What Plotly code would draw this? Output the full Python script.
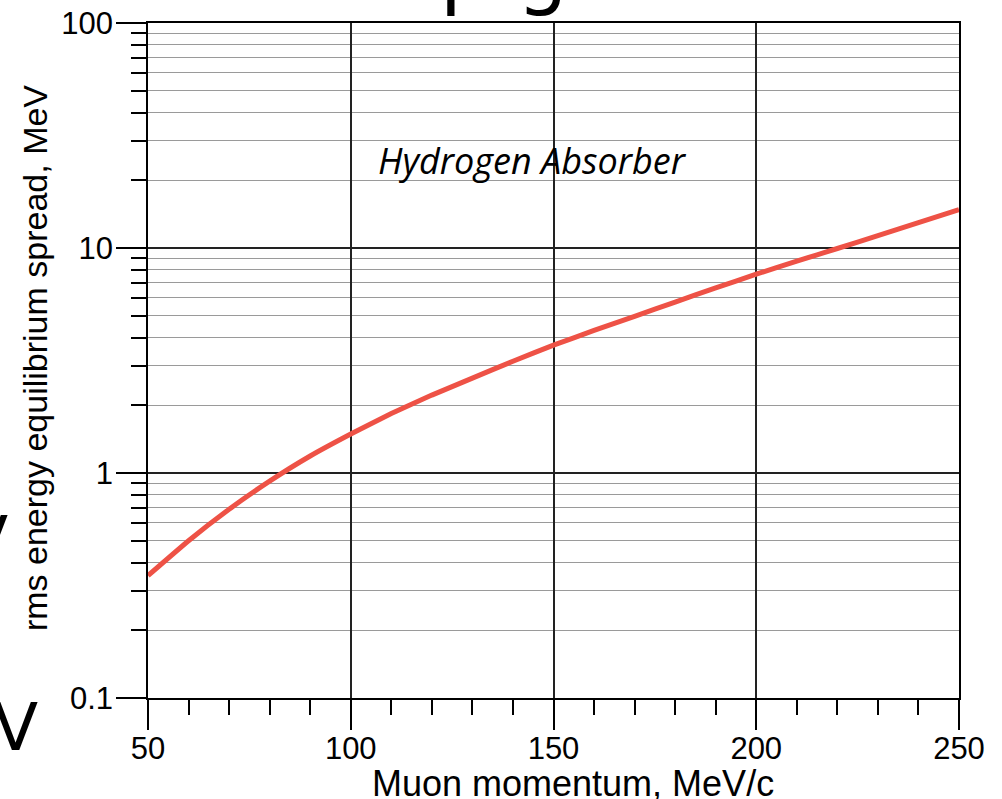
import plotly.graph_objects as go

# Data
momentum = [50, 60, 70, 80, 90, 100, 110, 120, 130, 140, 150,
            160, 170, 180, 190, 200, 210, 220, 230, 240, 250]
spread = [0.35, 0.50, 0.69, 0.92, 1.19, 1.49, 1.84, 2.22, 2.64, 3.14, 3.70,
          4.30, 4.97, 5.75, 6.65, 7.65, 8.75, 9.95, 11.35, 12.95, 14.8]

x_major = [50, 100, 150, 200, 250]
x_minor = [60, 70, 80, 90, 110, 120, 130, 140, 160, 170, 180, 190, 210, 220, 230, 240]
y_major = [0.1, 1, 10, 100]
y_major_text = ["0.1", "1", "10", "100"]
y_minor = [m * d for d in (0.1, 1, 10) for m in range(2, 10)]

x_title = "Muon momentum, MeV/c"
y_title = "rms energy equilibrium spread, MeV"
label = "Hydrogen Absorber"

FONT = "Liberation Sans, Arial, Helvetica, sans-serif"

fig = go.Figure()
fig.add_trace(go.Scatter(
    x=momentum, y=spread, mode="lines",
    line=dict(color="#EE5246", width=5, shape="spline", smoothing=0.3),
    showlegend=False, hoverinfo="skip"))

fig.update_layout(
    width=1002, height=799,
    margin=dict(l=148, r=43, t=23, b=101),
    paper_bgcolor="white", plot_bgcolor="white",
    font=dict(family=FONT, color="black"),
    xaxis=dict(
        range=[50, 250], tickmode="array", tickvals=x_major, automargin=False,
        ticks="outside", ticklen=30, tickwidth=1.5, tickcolor="black",
        ticklabelstandoff=-8,
        showgrid=True, gridcolor="#222", gridwidth=1.5,
        showline=True, linecolor="black", linewidth=1.5, mirror=True,
        zeroline=False, tickfont=dict(size=31, family=FONT),
        minor=dict(tickmode="array", tickvals=x_minor, ticks="outside", ticklen=15,
                   tickwidth=1.5, tickcolor="black", showgrid=False),
    ),
    yaxis=dict(
        type="log", range=[-1, 2], tickmode="array", tickvals=y_major, ticktext=y_major_text,
        automargin=False,
        ticks="outside", ticklen=30, tickwidth=1.5, tickcolor="black",
        ticklabelstandoff=-3,
        showgrid=True, gridcolor="#222", gridwidth=1.5,
        showline=True, linecolor="black", linewidth=1.5, mirror=True,
        zeroline=False, tickfont=dict(size=31, family=FONT),
        minor=dict(tickmode="array", tickvals=y_minor, ticks="outside", ticklen=15,
                   tickwidth=1.5, tickcolor="black", showgrid=True,
                   gridcolor="#9a9a9a", gridwidth=1),
    ),
)

# axis titles
fig.add_annotation(text=x_title, xref="paper", yref="paper", x=0.524, y=-0.126,
                   xanchor="center", yanchor="middle", showarrow=False,
                   font=dict(size=36, family=FONT, color="black"))
fig.add_annotation(text=y_title, xref="paper", yref="paper", x=-0.139, y=0.504,
                   textangle=-90, xanchor="center", yanchor="middle", showarrow=False,
                   font=dict(size=34, family=FONT, color="black"))

fig.add_annotation(
    text="<i>" + label + "</i>", x=144.9, y=1.39, xref="x", yref="y",
    showarrow=False, font=dict(size=36, family="Open Sans, sans-serif", color="black"))

# slide fragments visible around the chart
fig.add_annotation(text="V", xref="paper", yref="paper", x=-0.163, y=-0.044,
                   xanchor="center", yanchor="middle", showarrow=False,
                   font=dict(size=66, family="DejaVu Sans, sans-serif", color="black"))
fig.add_annotation(text="V", xref="paper", yref="paper", x=-0.2, y=0.233,
                   xanchor="center", yanchor="middle", showarrow=False,
                   font=dict(size=66, family="DejaVu Sans, sans-serif", color="black"))
fig.add_annotation(text="p", xref="paper", yref="paper", x=0.392, y=1.004,
                   xanchor="center", yanchor="bottom", showarrow=False,
                   font=dict(size=80, family="DejaVu Sans, sans-serif", color="black"))
fig.add_annotation(text="g", xref="paper", yref="paper", x=0.486, y=1.004,
                   xanchor="center", yanchor="bottom", showarrow=False,
                   font=dict(size=80, family="DejaVu Sans, sans-serif", color="black"))

fig.write_html("out.html")
